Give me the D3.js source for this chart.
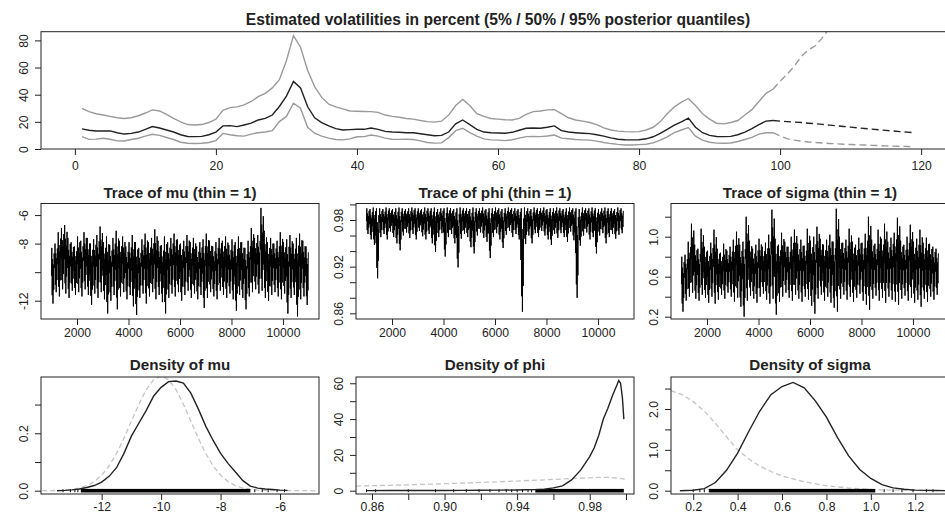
<!DOCTYPE html>
<html><head><meta charset="utf-8">
<script src="https://cdn.jsdelivr.net/npm/d3@7"></script>
<style>
body{margin:0;background:#fff;}
text{font-family:"Liberation Sans",Arial,Helvetica,sans-serif;fill:#222;}
</style></head><body>
<script>
// ---------------- DATA ----------------
// Volatility quantiles (percent), t = 1..99
const volQ95 = [30,27.5,26,25,24,23,22.5,23,24.5,26.5,
 28.8,28,25.5,22.5,20,18,17.7,18,19.5,22,
 28.5,30.5,31,32.5,35,38.5,41,45,51,65,
 83.5,75,58,46,38,33,31,29.5,28,27.8,
 27.6,27.5,27,25,24,23.4,22.5,22,21,20.2,
 19.8,20.5,25,32,36.5,32,26,24,22.5,22,
 21.5,21.4,22.5,25.5,27.5,28,28.8,29,26,23,
 21.4,20.5,19.5,18,15.5,14,13.2,12.8,12.6,12.8,
 14,16,20,26,31,34.5,37.2,32,26,22,
 19,18.5,19.5,21,25,29,35,41,44];
const volQ50 = [14.8,13.8,13.3,13.3,13.3,12,11,11.5,12.5,14.5,
 16.5,15.5,14,12.5,10.5,9.2,9.1,9.3,10.5,12.5,
 17,17.2,16.5,17.7,19,21.4,22.5,25,31.3,39,
 49.8,45,31.3,23,19.5,17,15,14,14.3,14.5,
 14.5,15.5,14.5,13,12.5,12.3,12,12,11.2,10.5,
 9.8,10,12.5,18.5,21.4,18,14.5,12.5,12,11.8,
 11.6,12.3,13.8,15.3,15.5,15.3,16,17,13.5,12.5,
 12,11.6,11.3,10.5,9.5,8.2,7.2,6.8,6.7,6.8,
 7.5,9,11.5,14.5,17.5,20,22.7,16,12,10,
 9.2,9.1,9.3,10.5,12.5,15,18,20.5,21];
const volQ05 = [9.1,7.1,7.3,7.9,7.2,6,5.9,7,7.9,9.5,
 10.8,10,8.5,7,5,4.2,4.1,4.2,4.8,6.2,
 11.5,10.5,9.8,9.5,11,12,12.5,13.5,20.2,24,
 33.7,30,16,11.6,9.5,8,7,6.7,7.5,9,
 9.1,10.3,9.5,8,7.2,7.1,7.2,7,6,4.8,
 4.3,4.5,8.4,13.5,15.3,12,9.5,7.5,6.7,6.5,
 6.2,6.8,8,9.1,9.3,9.1,9.6,10.3,8,7.5,
 7,6.7,6.5,5.8,4.8,4,3.4,3,3,3.2,
 3.5,4.5,6.5,9,12,14,15.8,9.5,6.5,5,
 4.3,4.2,4.4,5.5,7,8.5,11,12,12];
// Forecast quantiles, t = 99..119
const fcQ95 = [44,50,55,61,68,73,76,82,89,95,101,107,113,118,123,128,133,138,142,146,150];
const fcQ50 = [21,20.5,20.2,19.8,19.5,19.0,18.6,18.1,17.6,17.1,16.6,16.1,15.6,15.1,14.6,14.2,13.7,13.3,12.8,12.4,12.0];
const fcQ05 = [12,9.5,7.6,6.5,5.8,5.2,4.8,4.4,4.1,3.8,3.5,3.3,3.1,2.9,2.7,2.5,2.3,2.1,2.0,1.8,1.7];
const volXTicks = [0,20,40,60,80,100,120];
const volYTicks = [0,20,40,60,80];

// Trace envelopes (per block of 125 draws, iterations 1001..11000): block max / block min
const muHi = [-8.3,-8.0,-7.2,-6.9,-6.7,-7.6,-7.9,-8.2,-7.5,-7.8,-7.2,-7.6,-8.0,-7.7,-7.4,-6.8,-7.9,-7.5,-8.1,-7.6,
 -7.1,-7.8,-7.5,-8.2,-7.9,-7.4,-7.9,-8.3,-7.7,-7.3,-7.9,-7.6,-7.0,-7.8,-8.1,-7.5,-7.9,-7.6,-7.3,-7.7,
 -8.0,-7.8,-7.4,-7.9,-7.6,-8.2,-7.9,-7.7,-7.3,-7.8,-8.2,-7.9,-7.6,-7.8,-7.5,-8.1,-7.7,-7.9,-7.5,-7.9,
 -8.3,-7.8,-6.9,-7.6,-7.4,-5.5,-7.1,-7.9,-7.6,-8.0,-7.8,-7.2,-7.9,-7.7,-7.4,-8.0,-7.6,-7.3,-7.8,-8.2];
const muLo = [-12.2,-11.4,-11.7,-11.2,-11.5,-11.8,-11.3,-11.6,-11.4,-11.7,-11.2,-11.6,-12.3,-11.5,-11.8,-11.4,-11.9,-12.9,-12.0,-11.6,
 -12.6,-11.7,-11.4,-11.9,-11.6,-12.4,-13.0,-11.8,-11.5,-12.2,-11.7,-11.4,-11.9,-11.6,-12.1,-12.9,-11.8,-11.5,-11.7,-11.4,
 -12.0,-11.6,-11.3,-11.8,-11.5,-11.9,-11.6,-12.5,-11.8,-11.4,-11.7,-11.9,-11.3,-11.6,-11.8,-11.5,-11.9,-12.7,-11.6,-11.8,
 -12.6,-11.7,-11.4,-11.2,-11.5,-11.3,-11.8,-12.0,-11.6,-11.4,-11.7,-11.9,-11.5,-12.9,-11.8,-11.6,-13.1,-11.9,-11.7,-12.3];
const phiHi = [0.995,0.994,0.996,0.995,0.995,0.994,0.996,0.995,0.994,0.995,0.996,0.995,0.994,0.995,0.996,0.995,0.995,0.994,0.996,0.995,
 0.995,0.996,0.994,0.995,0.995,0.996,0.995,0.994,0.995,0.996,0.995,0.995,0.994,0.996,0.995,0.995,0.996,0.994,0.995,0.995,
 0.996,0.995,0.994,0.995,0.996,0.995,0.995,0.994,0.995,0.996,0.995,0.994,0.996,0.995,0.995,0.996,0.994,0.995,0.995,0.996,
 0.995,0.994,0.995,0.996,0.995,0.995,0.994,0.996,0.995,0.995,0.996,0.995,0.994,0.995,0.996,0.995,0.995,0.994,0.996,0.995];
const phiLo = [0.962,0.955,0.948,0.905,0.958,0.962,0.955,0.965,0.958,0.950,0.941,0.960,0.964,0.957,0.962,0.955,0.966,0.959,0.955,0.962,
 0.950,0.939,0.958,0.963,0.933,0.958,0.962,0.950,0.919,0.956,0.962,0.958,0.945,0.937,0.960,0.964,0.957,0.952,0.931,0.958,
 0.963,0.955,0.944,0.961,0.966,0.958,0.962,0.955,0.862,0.949,0.960,0.950,0.963,0.958,0.966,0.960,0.955,0.948,0.962,0.957,
 0.963,0.958,0.952,0.965,0.954,0.880,0.947,0.960,0.964,0.955,0.958,0.937,0.960,0.963,0.950,0.958,0.962,0.956,0.961,0.963];
const sigHi = [0.80,0.82,0.95,1.13,0.92,0.88,1.08,0.90,0.86,0.94,1.07,0.88,0.84,0.93,0.86,0.90,0.97,1.05,0.92,0.95,
 1.20,0.96,0.88,0.92,0.98,0.90,0.94,1.02,1.27,0.98,0.92,1.04,0.95,0.90,1.00,1.07,0.93,0.97,0.91,1.08,
 0.96,1.00,1.10,0.98,0.92,0.97,1.02,0.95,1.28,1.00,0.94,0.97,1.08,0.95,0.92,0.99,0.94,1.03,1.20,0.97,
 0.93,1.07,0.98,1.13,0.95,0.99,1.04,1.19,0.96,0.92,1.00,1.12,0.95,0.98,1.07,0.94,0.99,0.93,0.90,0.88];
const sigLo = [0.25,0.36,0.40,0.44,0.38,0.36,0.42,0.39,0.34,0.40,0.33,0.37,0.42,0.38,0.44,0.40,0.35,0.39,0.30,0.20,
 0.36,0.41,0.38,0.34,0.40,0.43,0.37,0.33,0.38,0.22,0.35,0.40,0.44,0.39,0.36,0.42,0.38,0.35,0.40,0.37,
 0.31,0.23,0.38,0.42,0.36,0.40,0.34,0.29,0.25,0.38,0.42,0.37,0.40,0.35,0.39,0.43,0.36,0.32,0.27,0.38,
 0.41,0.36,0.39,0.34,0.40,0.37,0.35,0.32,0.38,0.41,0.36,0.39,0.34,0.37,0.30,0.38,0.35,0.40,0.37,0.42];
const traceXTicks = [2000,4000,6000,8000,10000];

// Posterior densities (solid) and prior densities (dashed)
const muDensX = [-13.5,-13.25,-13,-12.75,-12.5,-12.25,-12,-11.75,-11.5,-11.25,-11,-10.75,-10.5,-10.25,-10,-9.75,-9.5,-9.25,-9,-8.75,-8.5,-8.25,-8,-7.75,-7.5,-7.25,-7,-6.75,-6.5,-6.25,-6,-5.75];
const muDensY = [0.000,0.001,0.003,0.006,0.011,0.018,0.03,0.05,0.08,0.13,0.19,0.235,0.28,0.33,0.36,0.38,0.382,0.375,0.34,0.285,0.225,0.175,0.13,0.095,0.065,0.035,0.016,0.009,0.006,0.004,0.002,0.001];
const muPriorX = [-14,-13.75,-13.5,-13.25,-13,-12.75,-12.5,-12.25,-12,-11.75,-11.5,-11.25,-11,-10.75,-10.5,-10.25,-10,-9.75,-9.5,-9.25,-9,-8.75,-8.5,-8.25,-8,-7.75,-7.5,-7.25,-7,-6.75,-6.5,-6.25,-6,-5.5,-4.75];
const muPriorY = [0.0001,0.0004,0.0009,0.002,0.0044,0.0091,0.0175,0.0317,0.054,0.0863,0.1295,0.1826,0.242,0.3011,0.3521,0.3867,0.3989,0.3867,0.3521,0.3011,0.242,0.1826,0.1295,0.0863,0.054,0.0317,0.0175,0.0091,0.0044,0.002,0.0009,0.0004,0.0001,0,0];
const phiDensX = [0.857,0.87,0.88,0.89,0.90,0.91,0.92,0.93,0.94,0.945,0.95,0.955,0.96,0.965,0.97,0.975,0.98,0.9825,0.985,0.9875,0.99,0.9925,0.995,0.996,0.997,0.998,0.9988];
const phiDensY = [0.05,0.1,0.1,0.15,0.15,0.2,0.25,0.3,0.4,0.5,0.6,0.9,1.6,2.7,6,11.5,19,24,31,40,46,53,59,61.5,60,52,40];
const phiPriorX = [0.8512,0.86,0.88,0.90,0.92,0.94,0.96,0.97,0.98,0.985,0.99,0.995,1.0];
const phiPriorY = [2.6,2.8,3.3,3.9,4.6,5.4,6.3,6.8,7.2,7.4,7.4,7.1,6.3];
const sigDensX = [0.14,0.2,0.25,0.3,0.35,0.4,0.45,0.5,0.55,0.6,0.65,0.7,0.75,0.8,0.85,0.9,0.95,1.0,1.05,1.1,1.15,1.2,1.25,1.3,1.35];
const sigDensY = [0.0,0.01,0.05,0.2,0.5,0.92,1.45,1.95,2.35,2.55,2.65,2.52,2.2,1.8,1.3,0.85,0.52,0.3,0.15,0.07,0.035,0.015,0.008,0.004,0.0];
const sigPriorX = [0.10,0.15,0.2,0.25,0.3,0.35,0.4,0.45,0.5,0.55,0.6,0.7,0.8,0.9,1.0,1.1,1.2,1.35];
const sigPriorY = [2.45,2.35,2.18,1.95,1.65,1.32,1.0,0.78,0.6,0.47,0.36,0.22,0.12,0.065,0.03,0.015,0.006,0.002];
// Rugs of draws: solid core range + scattered single draws
const muRugCore = [-12.7,-7.0];
const muRugSparse = [-13.3,-13.05,-12.9,-12.8,-6.85,-6.6,-6.4,-6.1,-5.85];
const phiRugCore = [0.950,0.9988];
const phiRugSparse = [0.857,0.862,0.88,0.895,0.905,0.912,0.919,0.925,0.93,0.934,0.937,0.94,0.943,0.946,0.948];
const sigRugCore = [0.27,1.02];
const sigRugSparse = [0.2,0.23,0.25,1.06,1.1,1.14,1.19,1.25,1.28];

// ---------------- DRAWING ----------------
const W = 945, H = 517;
const svg = d3.select("body").append("svg").attr("width", W).attr("height", H);
const INK = "#222", GRAY = "#9a9a9a", LGRAY = "#c4c4c4";
const TICKFS = 12.2, TITLEFS = 15.2;
let clipId = 0;

function panel(b) {
  const g = svg.append("g");
  const id = "clip" + (clipId++);
  svg.append("clipPath").attr("id", id).append("rect")
    .attr("x", b.x0).attr("y", b.y0).attr("width", b.x1 - b.x0).attr("height", b.y1 - b.y0);
  const x = d3.scaleLinear().domain(b.xd).range([b.x0, b.x1]);
  const y = d3.scaleLinear().domain(b.yd).range([b.y1, b.y0]);
  const plot = g.append("g").attr("clip-path", `url(#${id})`);
  const xa = g.append("g").attr("transform", `translate(0,${b.y1})`)
    .call(d3.axisBottom(x).tickValues(b.xt).tickSize(6)
      .tickFormat(d => { const i = b.xt.indexOf(d); return b.xl ? b.xl[i] : String(d); }));
  xa.select(".domain").remove();
  xa.selectAll("line").attr("stroke", INK);
  xa.selectAll("text").attr("dy", 0).attr("y", b.xlab).attr("font-size", TICKFS).attr("fill", INK);
  const ya = g.append("g").attr("transform", `translate(${b.x0},0)`)
    .call(d3.axisLeft(y).tickValues(b.yt).tickSize(6)
      .tickFormat(d => { const i = b.yt.indexOf(d); return b.yl ? b.yl[i] : String(d); }));
  ya.select(".domain").remove();
  ya.selectAll("line").attr("stroke", INK);
  ya.selectAll("text").attr("x", 0).attr("y", -13).attr("dy", 0)
    .attr("text-anchor", "middle").attr("transform", "rotate(-90)")
    .attr("font-size", TICKFS).attr("fill", INK);
  g.append("rect").attr("x", b.x0).attr("y", b.y0).attr("width", b.x1 - b.x0).attr("height", b.y1 - b.y0)
    .attr("fill", "none").attr("stroke", INK).attr("stroke-width", 1);
  g.append("text").attr("x", (b.x0 + b.x1) / 2).attr("y", b.ty).attr("text-anchor", "middle")
    .attr("font-size", b.tfs || TITLEFS).attr("font-weight", "bold").attr("fill", INK).text(b.title);
  return { x, y, plot };
}

// ---- Top: volatilities ----
{
  const p = panel({ x0: 41, x1: 955, y0: 31.7, y1: 149, xd: [-4.8, 124.8], yd: [0, 86.4],
    xt: volXTicks, yt: volYTicks, xlab: 21.3, ty: 25, tfs: 15.6,
    title: "Estimated volatilities in percent (5% / 50% / 95% posterior quantiles)" });
  const line = d3.line().x(d => p.x(d[0])).y(d => p.y(d[1]));
  const obs = arr => arr.map((v, i) => [i + 1, v]);
  const fc = arr => arr.map((v, i) => [i + 99, v]);
  p.plot.append("path").attr("d", line(obs(volQ95))).attr("fill", "none").attr("stroke", GRAY).attr("stroke-width", 1.4);
  p.plot.append("path").attr("d", line(obs(volQ05))).attr("fill", "none").attr("stroke", GRAY).attr("stroke-width", 1.4);
  p.plot.append("path").attr("d", line(obs(volQ50))).attr("fill", "none").attr("stroke", INK).attr("stroke-width", 1.4);
  p.plot.append("path").attr("d", line(fc(fcQ95))).attr("fill", "none").attr("stroke", GRAY).attr("stroke-width", 1.4).attr("stroke-dasharray", "7,4");
  p.plot.append("path").attr("d", line(fc(fcQ05))).attr("fill", "none").attr("stroke", GRAY).attr("stroke-width", 1.4).attr("stroke-dasharray", "7,4");
  p.plot.append("path").attr("d", line(fc(fcQ50))).attr("fill", "none").attr("stroke", INK).attr("stroke-width", 1.4).attr("stroke-dasharray", "7,4");
}

// ---- Middle: traces ----
// within each block the chain sweeps repeatedly between its min and max
const sweep = [[5, 0.5], [20, 1], [35, 0.15], [50, 0.8], [65, 0], [80, 0.7], [95, 0.25], [110, 0.9]];
function tracePanel(k, hi, lo, yd, yt, yl, name) {
  const p = panel({ x0: 41 + 315 * k, x1: 319 + 315 * k, y0: 203.5, y1: 319, xd: [601, 11400], yd,
    xt: traceXTicks, yt, yl, xlab: 18.3, ty: 198.3, title: `Trace of ${name} (thin = 1)` });
  const pts = [];
  hi.forEach((h, i) => {
    const l = lo[i];
    sweep.forEach(([off, f]) => pts.push([1001 + 125 * i + off, l + f * (h - l)]));
  });
  const line = d3.line().x(d => p.x(d[0])).y(d => p.y(d[1]));
  p.plot.append("path").attr("d", line(pts)).attr("fill", "none").attr("stroke", "#000").attr("stroke-width", 1);
}
tracePanel(0, muHi, muLo, [-13.28, -5.19], [-12, -10, -8, -6], ["-12", "", "-8", "-6"], "mu");
tracePanel(1, phiHi, phiLo, [0.8527, 1.0012], [0.86, 0.88, 0.90, 0.92, 0.94, 0.96, 0.98, 1.00], ["0.86", "", "", "0.92", "", "", "0.98", ""], "phi");
tracePanel(2, sigHi, sigLo, [0.177, 1.332], [0.2, 0.4, 0.6, 0.8, 1.0, 1.2], ["0.2", "", "0.6", "", "1.0", ""], "sigma");

// ---- Bottom: densities ----
function densPanel(k, xd, yd, xt, xl, yt, yl, dx, dy, px, py, rugCore, rugSparse, name) {
  const p = panel({ x0: 41 + 315 * k, x1: 319 + 315 * k, y0: 377, y1: 494, xd, yd,
    xt, xl, yt, yl, xlab: 17, ty: 369.5, title: `Density of ${name}` });
  const line = d3.line().x(d => p.x(d[0])).y(d => p.y(d[1]));
  p.plot.append("path").attr("d", line(px.map((v, i) => [v, py[i]]))).attr("fill", "none")
    .attr("stroke", LGRAY).attr("stroke-width", 1.3).attr("stroke-dasharray", "5,3");
  p.plot.append("rect").attr("x", p.x(rugCore[0])).attr("y", p.y(0) - 1.8)
    .attr("width", p.x(rugCore[1]) - p.x(rugCore[0])).attr("height", 3.6).attr("fill", "#000");
  p.plot.selectAll(null).data(rugSparse).enter().append("line")
    .attr("x1", d => p.x(d)).attr("x2", d => p.x(d)).attr("y1", p.y(0) - 1.5).attr("y2", p.y(0) + 1.5)
    .attr("stroke", "#000").attr("stroke-width", 1);
  p.plot.append("path").attr("d", line(dx.map((v, i) => [v, dy[i]]))).attr("fill", "none")
    .attr("stroke", INK).attr("stroke-width", 1.4);
}
densPanel(0, [-14.04, -4.69], [-0.0115, 0.396], [-12, -10, -8, -6], ["-12", "-10", "-8", "-6"],
  [0, 0.1, 0.2, 0.3], ["0.0", "", "0.2", ""], muDensX, muDensY, muPriorX, muPriorY, muRugCore, muRugSparse, "mu");
densPanel(1, [0.8512, 1.0044], [-1.84, 63.5], [0.86, 0.88, 0.90, 0.92, 0.94, 0.96, 0.98, 1.00],
  ["0.86", "", "0.90", "", "0.94", "", "0.98", ""],
  [0, 10, 20, 30, 40, 50, 60], ["0", "", "20", "", "40", "", "60"], phiDensX, phiDensY, phiPriorX, phiPriorY, phiRugCore, phiRugSparse, "phi");
densPanel(2, [0.10, 1.352], [-0.081, 2.783], [0.2, 0.4, 0.6, 0.8, 1.0, 1.2], ["0.2", "0.4", "0.6", "0.8", "1.0", "1.2"],
  [0, 0.5, 1.0, 1.5, 2.0, 2.5], ["0.0", "", "1.0", "", "2.0", ""], sigDensX, sigDensY, sigPriorX, sigPriorY, sigRugCore, sigRugSparse, "sigma");
</script>
</body></html>
